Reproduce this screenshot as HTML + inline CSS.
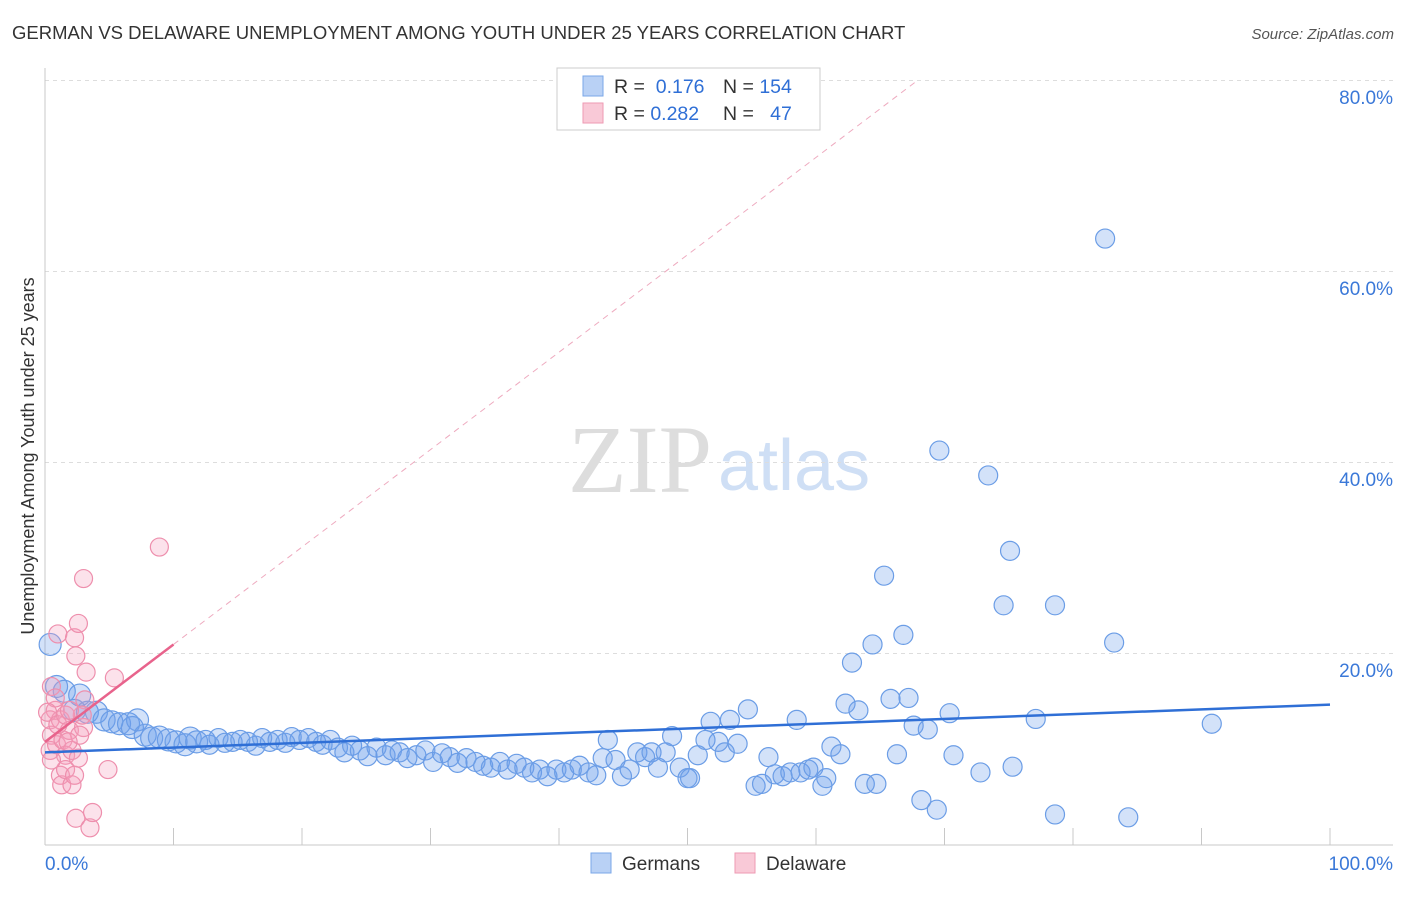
<!DOCTYPE html>
<html><head><meta charset="utf-8"><style>
body{margin:0;background:#fff;font-family:"Liberation Sans",sans-serif}
svg text{font-family:"Liberation Sans",sans-serif}
</style></head><body>
<svg id="c" width="1406" height="892" xmlns="http://www.w3.org/2000/svg">
<text x="12" y="39" font-size="18.5" fill="#333">GERMAN VS DELAWARE UNEMPLOYMENT AMONG YOUTH UNDER 25 YEARS CORRELATION CHART</text>
<text x="1394" y="39" font-size="15" fill="#555" text-anchor="end" font-style="italic">Source: ZipAtlas.com</text>
<text x="712" y="492" font-size="96" fill="#ddd" text-anchor="end" style="font-family:'Liberation Serif',serif">ZIP</text>
<text x="718" y="490" font-size="72" fill="#cfdff5">atlas</text>
<g id="grid"></g><g id="pts"></g><g id="lines"></g>
<text transform="translate(34,456) rotate(-90)" font-size="18" fill="#333" text-anchor="middle">Unemployment Among Youth under 25 years</text>
<rect x="557" y="68" width="263" height="62" fill="#fff" stroke="#ccc"/>
<rect x="583" y="76" width="20" height="20" fill="#b9d1f5" stroke="#7aa7e8"/>
<rect x="583" y="103" width="20" height="20" fill="#f9c9d7" stroke="#ee9ab3"/>
<text x="614" y="93" font-size="19.5" fill="#333">R = <tspan fill="#2f6fd6">&#160;0.176</tspan></text>
<text x="723" y="93" font-size="19.5" fill="#333">N = <tspan fill="#2f6fd6">154</tspan></text>
<text x="614" y="120" font-size="19.5" fill="#333">R = <tspan fill="#2f6fd6">0.282</tspan></text>
<text x="723" y="120" font-size="19.5" fill="#333">N = <tspan fill="#2f6fd6">&#160;&#160;47</tspan></text>
<rect x="591" y="853" width="20" height="20" fill="#b9d1f5" stroke="#7aa7e8"/>
<text x="622" y="870" font-size="19" fill="#333">Germans</text>
<rect x="735" y="853" width="20" height="20" fill="#f9c9d7" stroke="#ee9ab3"/>
<text x="766" y="870" font-size="19" fill="#333">Delaware</text>
</svg>
<script>
const yTicks=[20,40,60,80];
const yTickLabels=["20.0%","40.0%","60.0%","80.0%"];
const xTicks=[0,10,20,30,40,50,60,70,80,90,100];
const xEndLabels=["0.0%","100.0%"];
const germanX=[0.4,0.9,1.5,2.7,2.3,3.3,4.0,4.6,5.2,5.8,6.5,7.2,6.8,7.8,8.3,8.9,9.6,10.2,10.9,11.3,11.8,12.5,12.8,13.5,14.0,14.6,15.2,15.8,16.4,16.9,17.5,18.1,18.7,19.2,19.8,20.5,21.1,21.6,22.2,22.8,23.3,23.9,24.5,25.1,25.8,26.5,27.0,27.6,28.2,28.9,29.6,30.2,30.9,31.5,32.1,32.8,33.5,34.1,34.7,35.4,36.0,36.7,37.3,37.9,38.5,39.1,39.8,40.4,41.0,41.6,42.3,42.9,43.4,43.8,44.4,44.9,45.5,46.1,46.7,47.2,47.7,48.3,48.8,49.4,50.0,50.2,50.8,51.4,51.8,52.4,52.9,53.3,53.9,54.7,55.3,55.8,56.3,56.8,57.4,58.0,58.5,58.8,59.4,59.8,60.5,60.8,61.2,61.9,62.3,62.8,63.3,63.8,64.4,64.7,65.3,65.8,66.3,66.8,67.2,67.6,68.2,68.7,69.4,69.6,70.4,70.7,72.8,73.4,74.6,75.1,75.3,77.1,78.6,78.6,82.5,83.2,84.3,90.8];
const germanY=[21.0,16.6,16.1,15.7,14.1,13.9,13.9,13.1,12.9,12.7,12.7,13.1,12.3,11.5,11.2,11.3,11.0,10.8,10.5,11.2,10.8,11.0,10.5,11.2,10.7,10.8,11.0,10.8,10.4,11.2,10.8,11.0,10.7,11.3,11.0,11.2,10.8,10.5,11.0,10.2,9.7,10.4,9.9,9.3,10.2,9.4,9.9,9.7,9.1,9.4,9.9,8.7,9.6,9.2,8.6,9.1,8.7,8.3,8.1,8.7,7.9,8.5,8.1,7.6,7.9,7.2,7.9,7.6,7.9,8.3,7.6,7.3,9.1,11.0,8.9,7.2,7.9,9.7,9.2,9.7,8.1,9.7,11.4,8.1,7.0,7.0,9.4,11.0,12.9,10.8,9.7,13.1,10.6,14.2,6.2,6.4,9.2,7.4,7.2,7.6,13.1,7.6,7.9,8.1,6.2,7.0,10.3,9.5,14.8,19.1,14.1,6.4,21.0,6.4,28.2,15.3,9.5,22.0,15.4,12.5,4.7,12.1,3.7,41.3,13.8,9.4,7.6,38.7,25.1,30.8,8.2,13.2,25.1,3.2,63.5,21.2,2.9,12.7];
const delawareX=[0.5,1.0,0.8,0.4,0.5,0.4,0.9,1.2,1.4,1.6,1.9,2.1,1.2,1.3,1.6,2.1,2.3,2.4,3.5,3.7,2.3,2.4,2.6,3.0,3.2,3.1,3.0,2.7,2.9,4.9,5.4,8.9,0.8,0.2,1.0,1.6,0.5,1.8,2.6,1.9];
const delawareY=[16.6,22.1,14.1,13.1,11.5,9.9,10.5,13.1,11.0,9.4,12.0,9.9,7.3,6.3,7.9,6.3,7.3,2.8,1.8,3.4,21.7,19.8,23.2,27.9,18.1,15.2,12.3,11.5,13.6,7.9,17.5,31.2,15.4,13.9,12.6,13.6,8.9,10.8,9.1,14.1];
const germanTrend=[9.7,14.7];
const delawareTrend=[10.8,1.02];
const X0=45,X1=1330,YB=845,PX=9.55;
const sx=v=>X0+(X1-X0)*v/100, sy=v=>YB-v*PX;
const NS="http://www.w3.org/2000/svg";
function mk(t,a,p){const e=document.createElementNS(NS,t);for(const k in a)e.setAttribute(k,a[k]);p.appendChild(e);return e;}
const grid=document.getElementById('grid'),pts=document.getElementById('pts'),lines=document.getElementById('lines');
yTicks.forEach((t,i)=>{
 const l=mk('line',{x1:X0,x2:1393,y1:sy(t)-0.5,y2:sy(t)-0.5,stroke:'#ddd','stroke-dasharray':'4,4'},grid);
 
 
 const tx=mk('text',{x:1393,y:sy(t)+23,'font-size':19,fill:'#3a78d8','text-anchor':'end'},grid);tx.textContent=yTickLabels[i];
 
 
});
const ax=mk('line',{x1:X0,x2:X0,y1:68,y2:YB,stroke:'#c8c8c8'},grid);


const bx=mk('line',{x1:X0,x2:1393,y1:YB,y2:YB,stroke:'#c8c8c8'},grid);


xTicks.forEach(t=>{const l=mk('line',{x1:sx(t),x2:sx(t),y1:YB-17,y2:YB,stroke:'#c8c8c8'},grid);
 
 });
[[0,'start',X0],[1,'end',1393]].forEach(([i,a,x])=>{const tx=mk('text',{x:x,y:870,'font-size':19,fill:'#3a78d8','text-anchor':a},grid);tx.textContent=xEndLabels[i];
 
 });
germanX.forEach((x,i)=>{const c=mk('circle',{cx:sx(x),cy:sy(germanY[i]),r:(x<12?11:9.5),fill:'rgba(110,160,235,0.3)',stroke:'#6b9de6','stroke-width':1.2},pts);
 
 });
delawareX.forEach((x,i)=>{const c=mk('circle',{cx:sx(x),cy:sy(delawareY[i]),r:9,fill:'rgba(245,160,190,0.3)',stroke:'#ee8fad','stroke-width':1.2},pts);
 
 });
const g=mk('line',{x1:sx(0),y1:sy(germanTrend[0]),x2:sx(100),y2:sy(germanTrend[1]),stroke:'#2f6fd6','stroke-width':2.5},lines);


const xe=(80-delawareTrend[0])/delawareTrend[1];
const d1=mk('line',{x1:sx(10),y1:sy(delawareTrend[0]+10*delawareTrend[1]),x2:sx(xe),y2:sy(80),stroke:'#eeaabf','stroke-width':1,'stroke-dasharray':'6,5'},lines);


const d2=mk('line',{x1:sx(0),y1:sy(delawareTrend[0]),x2:sx(10),y2:sy(delawareTrend[0]+10*delawareTrend[1]),stroke:'#e8638c','stroke-width':2.5},lines);


</script>
</body></html>
